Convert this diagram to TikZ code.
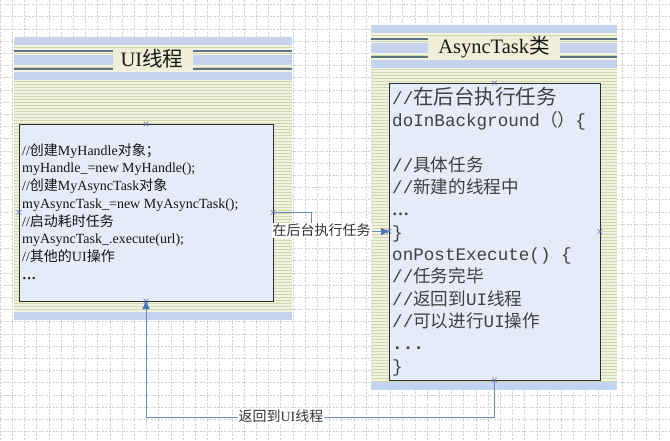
\documentclass[tikz,border=0pt]{standalone}
\usepackage{fontspec}
\setmainfont{Liberation Serif}
\setmonofont{Liberation Mono}
\newfontfamily\cjk{Noto Sans CJK SC}
\usetikzlibrary{arrows.meta,shapes.misc}
\definecolor{bandblue}{HTML}{C6D3EE}
\definecolor{paleyel}{HTML}{F1F2DF}
\definecolor{stripeyel}{HTML}{D2D6AC}
\definecolor{darkline}{HTML}{5D7282}
\definecolor{boxfill}{HTML}{E6ECF7}
\definecolor{boxline}{HTML}{2E2E2E}
\definecolor{connline}{HTML}{6D89BF}
\definecolor{arrowblue}{HTML}{4A72BE}
\definecolor{gridgray}{HTML}{D0D0D0}
\definecolor{titlebg}{HTML}{EEEFD6}
\definecolor{markblue}{HTML}{6070B0}
\newcommand\zh[1]{{\cjk #1}}
% panel: x1 y1 x2 y2 titlex1 titlex2
\newcommand\mypanel[6]{%
  \fill[paleyel] ({#1},{#2}) rectangle ({#3},{#4});
  \begin{scope}
    \clip ({#1},{#2+43}) rectangle ({#3},{#4-8});
    \foreach \k in {0,...,110}
      \draw[stripeyel,line width=1.4pt] ({#1},{#2+44.5+3*\k}) -- ({#3},{#2+44.5+3*\k});
  \end{scope}
  \fill[bandblue] ({#1},{#2}) rectangle ({#3},{#2+8});
  \draw[stripeyel,line width=1pt] ({#1},{#2+10.5}) -- ({#3},{#2+10.5});
  \fill[bandblue] ({#1},{#2+18}) rectangle ({#3},{#2+28});
  \draw[stripeyel,line width=1pt] ({#1},{#2+16}) -- ({#3},{#2+16});
  \draw[stripeyel,line width=1pt] ({#1},{#2+30}) -- ({#3},{#2+30});
  \fill[bandblue] ({#1},{#2+34.7}) rectangle ({#3},{#2+43});
  \fill[bandblue] ({#1},{#4-8}) rectangle ({#3},{#4});
  \fill[titlebg] ({#5},{#2+10.5}) rectangle ({#6},{#2+32.5});
  \draw[darkline,line width=1.6pt] ({#1},{#2+13.8}) -- ({#5},{#2+13.8});
  \draw[darkline,line width=1.6pt] ({#6},{#2+13.8}) -- ({#3},{#2+13.8});
  \draw[darkline,line width=1.6pt] ({#1},{#2+32}) -- ({#5},{#2+32});
  \draw[darkline,line width=1.6pt] ({#6},{#2+32}) -- ({#3},{#2+32});
}
\tikzset{
  gridline/.style={draw=gridgray,line width=0.6pt,dash pattern=on 2pt off 1.5pt},
  codebox/.style={draw=boxline,fill=boxfill,line width=1pt,inner sep=0pt,outer sep=0pt,anchor=north west},
  lefttxt/.style={anchor=base west,inner sep=0pt,text=black!92,font=\fontsize{14}{17}\selectfont},
  righttxt/.style={anchor=base west,inner sep=0pt,text=black!75,font=\ttfamily\fontsize{17.6}{20}\selectfont},
  titletxt/.style={inner sep=0pt,text=black!90,font=\fontsize{20.5}{24}\selectfont},
  conn/.style={draw=connline,line width=0.9pt,-{Triangle[length=8pt,width=7pt,color=arrowblue]}},
  lab/.style={fill=white,inner sep=1pt,text=black!80,font=\fontsize{14}{16}\selectfont},
  xmark/.style={cross out,draw=markblue,line width=0.6pt,minimum size=4pt,inner sep=0pt}
}
\begin{document}
\begin{tikzpicture}[x=1pt,y=-1pt]
\fill[white] (0,0) rectangle (670,440);
\useasboundingbox (0,0) rectangle (670,440);
% grid
\foreach \i in {0,...,54} \draw[gridline] ({12.2*\i},0) -- ({12.2*\i},440);
\foreach \j in {0,...,35} \draw[gridline] (0,{4.5+12.2*\j}) -- (670,{4.5+12.2*\j});
% panels
\mypanel{14}{37}{292}{320}{113}{193}
\mypanel{371}{25}{617}{390}{428}{560}
\node[titletxt] (t1) at (152,59) {UI\zh{线程}};
\node[titletxt] (t2) at (494,47) {AsyncTask\zh{类}};
% boxes
\node[codebox,minimum width=254pt,minimum height=177pt] (lbox) at (19,124) {};
\node[codebox,minimum width=211pt,minimum height=297pt] (rbox) at (389,83) {};
% left text
\node[lefttxt] (l1) at (22,155) {//\zh{创建}MyHandle\zh{对象；}};
\node[lefttxt] (l2) at (22,172.75) {myHandle\_=new MyHandle();};
\node[lefttxt] (l3) at (22,190.5) {//\zh{创建}MyAsyncTask\zh{对象}};
\node[lefttxt] (l4) at (22,208.25) {myAsyncTask\_=new MyAsyncTask();};
\node[lefttxt] (l5) at (22,226) {//\zh{启动耗时任务}};
\node[lefttxt] (l6) at (22,243.75) {myAsyncTask\_.execute(url);};
\node[lefttxt] (l7) at (22,261.5) {//\zh{其他的}UI\zh{操作}};
\node[lefttxt] (l8) at (22,279.25) {\textbf{…}};
% right text
\node[righttxt] (r1) at (392,104) {//{\cjk\fontsize{20.5}{22}\selectfont 在后台执行任务}};
\node[righttxt] (r2) at (392,126.3) {doInBackground\zh{（）}\{};
\node[righttxt] (r4) at (392,171) {//\zh{具体任务}};
\node[righttxt] (r5) at (392,193.3) {//\zh{新建的线程中}};
\node[righttxt] (r6) at (392,215.6) {\rmfamily\bfseries\fontsize{17}{20}\selectfont …};
\node[righttxt] (r7) at (392,238) {\}};
\node[righttxt] (r8) at (392,260.3) {onPostExecute() \{};
\node[righttxt] (r9) at (392,282.6) {//\zh{任务完毕}};
\node[righttxt] (r10) at (392,305) {//\zh{返回到}UI\zh{线程}};
\node[righttxt] (r11) at (392,327.3) {//\zh{可以进行}UI\zh{操作}};
\node[righttxt] (r12) at (392,349.6) {\bfseries ...};
\node[righttxt] (r13) at (392,372) {\}};
% connectors
\coordinate (bend1) at (311,0);
\coordinate (botline) at (0,417);
\draw[conn] (lbox.east) -- (lbox.east -| bend1) |- (rbox.west);
\draw[conn] (rbox.south) -- (rbox.south |- botline) -- (lbox.south |- botline) -- (lbox.south);
\node[lab] (lab1) at (321.5,230.5) {\zh{在后台执行任务}};
\node[lab] (lab2) at (281,416.5) {\zh{返回到}UI\zh{线程}};
% connection point markers
\foreach \a in {north,south,east,west} {
  \node[xmark] (ml-\a) at (lbox.\a) {};
  \node[xmark] (mr-\a) at (rbox.\a) {};
}
\end{tikzpicture}
\end{document}
